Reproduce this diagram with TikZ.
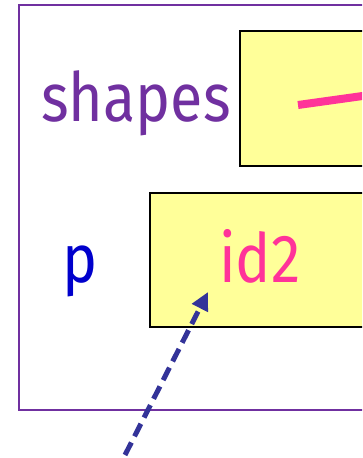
\documentclass[tikz,border=0pt]{standalone}
\usepackage{fontspec}
\setmainfont{Fira Sans}
\newfontfamily\lblfont[FakeStretch=0.87]{Fira Sans}
\usetikzlibrary{arrows.meta}
\definecolor{framepurple}{HTML}{7030A0}
\definecolor{varblue}{HTML}{0000CC}
\definecolor{idpink}{HTML}{FF3399}
\definecolor{boxyellow}{HTML}{FFFF99}
\definecolor{arrownavy}{HTML}{333399}
\tikzset{
  frame/.style={draw=framepurple, line width=2pt},
  cell/.style={draw=black, line width=2pt, fill=boxyellow},
  lbl/.style={inner sep=0pt, anchor=base west, font=\lblfont\fontsize{68}{68}\selectfont},
  ref/.style={draw=arrownavy, line width=5pt, dash pattern=on 14pt off 7pt, -{Triangle[length=18pt,width=17pt]}},
  ptr/.style={draw=idpink, line width=8pt}
}
\begin{document}
\begin{tikzpicture}[x=1pt,y=1pt]
\useasboundingbox (0,0) rectangle (362,458);
\clip (0,0) rectangle (362,458);
\draw[frame] (18.5,452.5) rectangle (400,47.5);
\draw[cell] (240,427) rectangle (400,292);
\draw[cell] (150,265) rectangle (400,131);
\node[lbl, text=framepurple] (shapes) at (41,336) {shapes};
\node[lbl, text=varblue] (p) at (62,175) {p};
\node[lbl, text=idpink] (id) at (219,175) {id2};
\coordinate (ptrstart) at (298,353);
\coordinate (ptrend) at (420,370);
\draw[ptr] (ptrstart) -- (ptrend);
\coordinate (refstart) at (125,3);
\coordinate (reftip) at (208,166);
\draw[ref] (refstart) -- (reftip);
\end{tikzpicture}
\end{document}
